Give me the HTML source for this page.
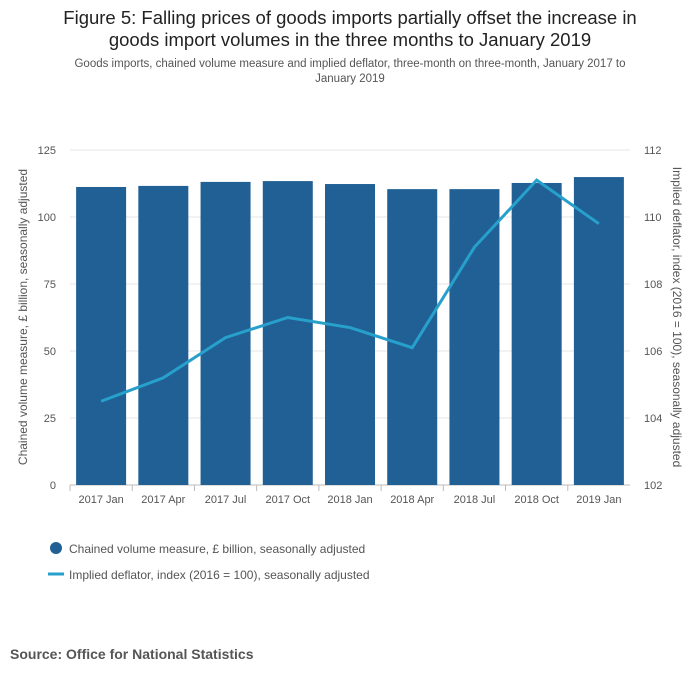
<!DOCTYPE html>
<html><head><meta charset="utf-8"><style>
body{margin:0;background:#fff;font-family:"Liberation Sans",sans-serif;}
#wrap{position:relative;width:700px;height:682px;overflow:hidden;}
h1{position:absolute;top:7px;left:0;width:700px;margin:0;text-align:center;font-weight:normal;font-size:18.5px;line-height:22px;color:#222;white-space:nowrap;}
.sub{position:absolute;top:57px;left:0;width:700px;text-align:center;font-size:11.5px;line-height:15px;color:#555;white-space:nowrap;}
.src{position:absolute;top:646px;left:10px;font-weight:bold;font-size:14px;color:#555;}
svg text{font-family:"Liberation Sans",sans-serif;}
</style></head><body>
<div id="wrap">
<h1>Figure 5: Falling prices of goods imports partially offset the increase in<br>goods import volumes in the three months to January 2019</h1>
<div class="sub">Goods imports, chained volume measure and implied deflator, three-month on three-month, January 2017 to<br>January 2019</div>
<svg id="chart" width="700" height="682" style="position:absolute;left:0;top:0"></svg>
<div class="src">Source: Office for National Statistics</div>
</div>
<script>
const categories=["2017 Jan","2017 Apr","2017 Jul","2017 Oct","2018 Jan","2018 Apr","2018 Jul","2018 Oct","2019 Jan"];
const volumeValues=[111.2,111.6,113.1,113.4,112.3,110.4,110.4,112.7,114.9];
const deflatorValues=[104.5,105.2,106.4,107.0,106.7,106.1,109.1,111.1,109.8];
const leftTicks=[0,25,50,75,100,125];
const rightTicks=[102,104,106,108,110,112];
const NS="http://www.w3.org/2000/svg";
const svg=document.getElementById('chart');
const X0=70,X1=630,Y0=485,Y1=150;
const band=(X1-X0)/categories.length;
const xC=i=>X0+band*(i+0.5);
const yL=v=>Y0-(v-0)/125*(Y0-Y1);
const yR=v=>Y0-(v-102)/10*(Y0-Y1);
function mk(t,a,txt){const e=document.createElementNS(NS,t);for(const k in a)e.setAttribute(k,a[k]);if(txt!=null)e.textContent=txt;svg.appendChild(e);return e;}
leftTicks.forEach((t,i)=>{
 const g=mk('line',{x1:X0,x2:X1,y1:yL(t),y2:yL(t),stroke:t===0?'#bbb':'#e5e5e5','stroke-width':1});
 
 
 const l=mk('text',{x:56,y:yL(t)+4,'text-anchor':'end','font-size':11,fill:'#555'},t);
 
 
});
rightTicks.forEach(t=>{
 const l=mk('text',{x:644,y:yR(t)+4,'text-anchor':'start','font-size':11,fill:'#555'},t);
 
 
});
categories.forEach((c,i)=>{
 const b=mk('rect',{x:xC(i)-25,y:yL(volumeValues[i]),width:50,height:Y0-yL(volumeValues[i]),fill:'#206095'});
 
 
 const tk=mk('line',{x1:X0+band*i,x2:X0+band*i,y1:Y0,y2:Y0+6,stroke:'#bbb'});
 
 
 const l=mk('text',{x:xC(i),y:503,'text-anchor':'middle','font-size':11,fill:'#555'},c);
 
 
});
const ln=mk('polyline',{points:deflatorValues.map((v,i)=>xC(i)+','+yR(v)).join(' '),fill:'none',stroke:'#27a0cc','stroke-width':3});


const yt=mk('text',{transform:'translate(27,317) rotate(-90)','text-anchor':'middle','font-size':12,fill:'#555'},'Chained volume measure, £ billion, seasonally adjusted');


const yt2=mk('text',{transform:'translate(673,317) rotate(90)','text-anchor':'middle','font-size':12,fill:'#555'},'Implied deflator, index (2016 = 100), seasonally adjusted');


const c1=mk('circle',{cx:56,cy:548,r:6,fill:'#206095'});


const t1=mk('text',{x:69,y:553,'font-size':12,fill:'#555'},'Chained volume measure, £ billion, seasonally adjusted');


const l2=mk('line',{x1:48,x2:64,y1:574,y2:574,stroke:'#27a0cc','stroke-width':3});


const t2=mk('text',{x:69,y:579,'font-size':12,fill:'#555'},'Implied deflator, index (2016 = 100), seasonally adjusted');


</script>
</body></html>
